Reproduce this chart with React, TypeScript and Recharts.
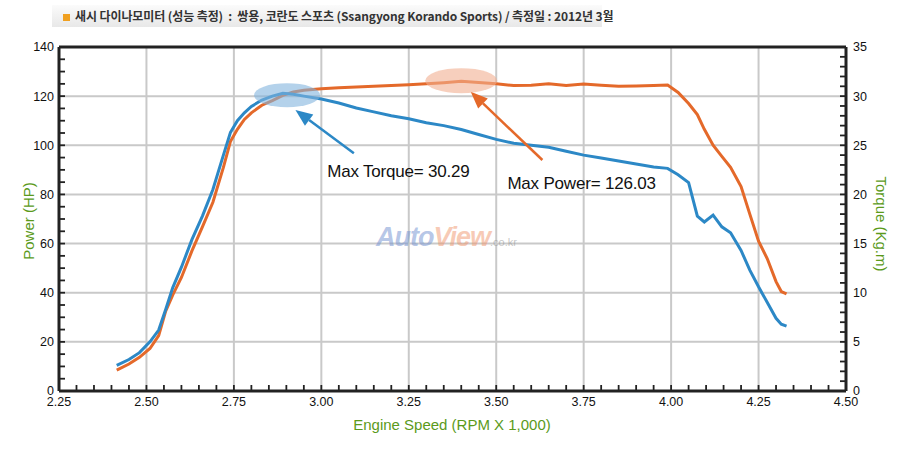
import React from 'react';
import { LineChart, Line, XAxis, YAxis, CartesianGrid, ReferenceDot, ReferenceLine, Label } from 'recharts';

// engine speed (x 1,000 rpm)
const rpm = [
  2.415, 2.45, 2.48, 2.51, 2.535, 2.555, 2.575, 2.6, 2.63, 2.66, 2.69, 2.72, 2.74, 2.76, 2.78, 2.8,
  2.83, 2.86, 2.89, 2.92, 2.95, 3.0, 3.05, 3.1, 3.15, 3.2, 3.25, 3.3, 3.35, 3.4, 3.45, 3.5,
  3.55, 3.6, 3.65, 3.7, 3.75, 3.8, 3.85, 3.9, 3.95, 3.99, 4.02, 4.05, 4.075, 4.095, 4.12, 4.145,
  4.17, 4.2, 4.225, 4.25, 4.275, 4.3, 4.315, 4.33,
];

// torque (kg.m), right axis
const torque = [
  2.6, 3.2, 3.9, 5.0, 6.2, 8.3, 10.5, 12.6, 15.4, 17.8, 20.5, 24.0, 26.3, 27.5, 28.3, 28.95,
  29.6, 30.0, 30.29, 30.2, 30.0, 29.7, 29.3, 28.8, 28.4, 28.0, 27.7, 27.3, 27.0, 26.6, 26.1, 25.6,
  25.2, 25.0, 24.8, 24.4, 24.0, 23.7, 23.4, 23.1, 22.8, 22.65, 22.0, 21.2, 17.8, 17.2, 17.9, 16.7,
  16.1, 14.3, 12.3, 10.6, 9.0, 7.4, 6.8, 6.6,
];

// power (HP), left axis
const power = [
  8.5, 11.0, 13.7, 17.3, 22.5, 32.5, 39.0, 46.2, 57.0, 66.8, 76.8, 91.0, 101.5, 106.5, 110.5, 113.2,
  116.3, 118.2, 120.3, 121.7, 122.4, 123.0, 123.4, 123.7, 124.0, 124.3, 124.6, 125.0, 125.5, 126.03, 125.6, 125.0,
  124.3, 124.4, 125.0, 124.3, 124.9, 124.4, 124.0, 124.1, 124.3, 124.5, 121.5, 117.0, 112.5, 106.5, 100.0, 95.5,
  91.0, 83.2, 72.0, 61.0, 53.8, 44.5, 40.5, 39.5,
];

const xTicks = [2.25, 2.5, 2.75, 3.0, 3.25, 3.5, 3.75, 4.0, 4.25, 4.5];
const powerTicks = [0, 20, 40, 60, 80, 100, 120, 140];
const torqueTicks = [0, 5, 10, 15, 20, 25, 30, 35];

// minor tick positions (every 0.05 rpm, 5 HP, 1 kg.m)
const xMinor = Array.from({ length: 46 }, (_, i) => +(2.25 + i * 0.05).toFixed(2));
const powerMinor = Array.from({ length: 29 }, (_, i) => i * 5);
const torqueMinor = Array.from({ length: 36 }, (_, i) => i);

const title = '새시 다이나모미터 (성능 측정)  :  쌍용, 코란도 스포츠 (Ssangyong Korando Sports) / 측정일 : 2012년 3월';

const data = rpm.map((r, i) => ({ rpm: r, torque: torque[i], power: power[i] }));

const BLUE = '#2C88C6';
const ORANGE = '#E4692A';
const GREEN = '#5B9A1B';
const AXIS = '#222222';
const FONT = '"Liberation Sans", Arial, sans-serif';
const MINOR = 6;

// short inward tick marks drawn at one end of a reference line
const leftNotch = (p: any) => {
  const x = Math.min(p.x1, p.x2);
  return <line x1={x} x2={x + MINOR} y1={p.y1} y2={p.y1} stroke={AXIS} strokeWidth={1.8} />;
};
const rightNotch = (p: any) => {
  const x = Math.max(p.x1, p.x2);
  return <line x1={x} x2={x - MINOR} y1={p.y1} y2={p.y1} stroke={AXIS} strokeWidth={1.8} />;
};
const bottomNotch = (p: any) => {
  const y = Math.max(p.y1, p.y2);
  return <line x1={p.x1} x2={p.x1} y1={y} y2={y - MINOR} stroke={AXIS} strokeWidth={1.8} />;
};

const arrow = (color: string) => (p: any) => {
  const { x1, y1, x2, y2 } = p;
  const a = Math.atan2(y2 - y1, x2 - x1);
  const len = 17;
  const half = 7;
  const bx = x2 - len * Math.cos(a);
  const by = y2 - len * Math.sin(a);
  const px = -Math.sin(a) * half;
  const py = Math.cos(a) * half;
  return (
    <g>
      <line x1={x1} y1={y1} x2={bx} y2={by} stroke={color} strokeWidth={2.5} />
      <polygon points={`${x2},${y2} ${bx + px},${by + py} ${bx - px},${by - py}`} fill={color} />
    </g>
  );
};

const ellipse = (fill: string, rx: number, ry: number) => (p: any) => (
  <ellipse cx={p.cx} cy={p.cy} rx={rx} ry={ry} fill={fill} />
);

const note = (text: string) => (p: any) => (
  <text x={p.cx} y={p.cy} fontSize={17} fontFamily={FONT} fill="#111" letterSpacing={-0.2}>
    {text}
  </text>
);

const axisText = (text: string, cx: number, cy: number, angle: number) => () => (
  <text
    x={cx}
    y={cy}
    fontSize={15}
    fontFamily={FONT}
    fill={GREEN}
    textAnchor="middle"
    dominantBaseline="central"
    transform={angle ? `rotate(${angle} ${cx} ${cy})` : undefined}
  >
    {text}
  </text>
);

const tickStyle = { fontSize: 12.5, fill: '#111', fontFamily: FONT };

export default function App() {
  return (
    <div style={{ position: 'absolute', left: 0, top: 0, width: 900, height: 450, background: '#fff' }}>
      <div
        style={{
          position: 'absolute',
          left: 52,
          top: 5,
          width: 550,
          height: 22,
          background: 'linear-gradient(to bottom, #fbfbfb, #e8e8e8)',
        }}
      />
      <div
        style={{
          position: 'absolute',
          left: 63,
          top: 5,
          height: 22,
          lineHeight: '22px',
          fontSize: 12,
          fontWeight: 600,
          color: '#333',
          fontFamily: '"Noto Sans CJK KR", sans-serif',
          whiteSpace: 'pre',
          letterSpacing: -0.1,
        }}
      >
        <span style={{ display: 'inline-block', width: 7, height: 7, background: '#F0A020', marginRight: 5 }} />
        {title}
      </div>

      <LineChart width={900} height={450} data={data} margin={{ top: 47, right: 0, bottom: 29, left: 0 }}>
        <CartesianGrid xAxisId="x" yAxisId="left" stroke="#C9C9C9" strokeWidth={2} />
        <XAxis
          xAxisId="x"
          dataKey="rpm"
          type="number"
          domain={[2.25, 4.5]}
          ticks={xTicks}
          tickFormatter={(v: number) => v.toFixed(2)}
          tick={tickStyle}
          tickLine={false}
          tickSize={4}
          tickMargin={2}
          height={30}
          axisLine={{ stroke: AXIS, strokeWidth: 3 }}
          allowDataOverflow
        >
          <Label content={axisText('Engine Speed (RPM X 1,000)', 452, 424, 0)} />
        </XAxis>
        <YAxis
          yAxisId="left"
          type="number"
          domain={[0, 140]}
          ticks={powerTicks}
          tick={tickStyle}
          tickLine={false}
          tickSize={3}
          tickMargin={2}
          width={59}
          axisLine={{ stroke: AXIS, strokeWidth: 3 }}
          allowDataOverflow
        >
          <Label content={axisText('Power (HP)', 28, 221, -90)} />
        </YAxis>
        <YAxis
          yAxisId="right"
          orientation="right"
          type="number"
          domain={[0, 35]}
          ticks={torqueTicks}
          tick={tickStyle}
          tickLine={false}
          tickSize={5}
          tickMargin={2}
          width={54}
          axisLine={{ stroke: AXIS, strokeWidth: 3 }}
          allowDataOverflow
        >
          <Label content={axisText('Torque (Kg.m)', 881, 224, 90)} />
        </YAxis>

        <ReferenceLine xAxisId="x" yAxisId="left" y={140} stroke={AXIS} strokeWidth={3} />

        {powerMinor.map((v) => (
          <ReferenceLine key={`p${v}`} xAxisId="x" yAxisId="left" y={v} shape={leftNotch} />
        ))}
        {torqueMinor.map((v) => (
          <ReferenceLine key={`t${v}`} xAxisId="x" yAxisId="right" y={v} shape={rightNotch} />
        ))}
        {xMinor.map((v) => (
          <ReferenceLine key={`x${v}`} xAxisId="x" yAxisId="left" x={v} shape={bottomNotch} />
        ))}

        <ReferenceDot
          xAxisId="x"
          yAxisId="right"
          x={2.902}
          y={30.1}
          r={1}
          shape={ellipse('rgba(130,180,222,0.6)', 33, 12)}
        />
        <ReferenceDot
          xAxisId="x"
          yAxisId="left"
          x={3.4}
          y={126.3}
          r={1}
          shape={ellipse('rgba(242,175,145,0.6)', 36, 12.5)}
        />

        <Line
          xAxisId="x"
          yAxisId="left"
          dataKey="power"
          type="linear"
          stroke={ORANGE}
          strokeWidth={3}
          dot={false}
          isAnimationActive={false}
        />
        <Line
          xAxisId="x"
          yAxisId="right"
          dataKey="torque"
          type="linear"
          stroke={BLUE}
          strokeWidth={3}
          dot={false}
          isAnimationActive={false}
        />

        <ReferenceLine
          xAxisId="x"
          yAxisId="right"
          segment={[{ x: 3.093, y: 24.2 }, { x: 2.926, y: 28.6 }]}
          shape={arrow(BLUE)}
        />
        <ReferenceLine
          xAxisId="x"
          yAxisId="left"
          segment={[{ x: 3.632, y: 94.0 }, { x: 3.427, y: 121.8 }]}
          shape={arrow(ORANGE)}
        />
        <ReferenceDot xAxisId="x" yAxisId="right" x={3.017} y={21.77} r={1} shape={note('Max Torque= 30.29')} />
        <ReferenceDot xAxisId="x" yAxisId="left" x={3.532} y={82.2} r={1} shape={note('Max Power= 126.03')} />
      </LineChart>

      <div
        style={{
          position: 'absolute',
          left: 376,
          top: 222,
          fontFamily: FONT,
          fontStyle: 'italic',
          fontWeight: 700,
          fontSize: 27,
          letterSpacing: -1,
          pointerEvents: 'none',
          whiteSpace: 'pre',
        }}
      >
        <span style={{ color: 'rgba(120,150,210,0.55)' }}>Auto</span>
        <span style={{ color: 'rgba(240,150,110,0.5)' }}>View</span>
        <span style={{ color: 'rgba(150,150,150,0.55)', fontSize: 11, fontStyle: 'normal', fontWeight: 400, letterSpacing: 0 }}>
          .co.kr
        </span>
      </div>
    </div>
  );
}
